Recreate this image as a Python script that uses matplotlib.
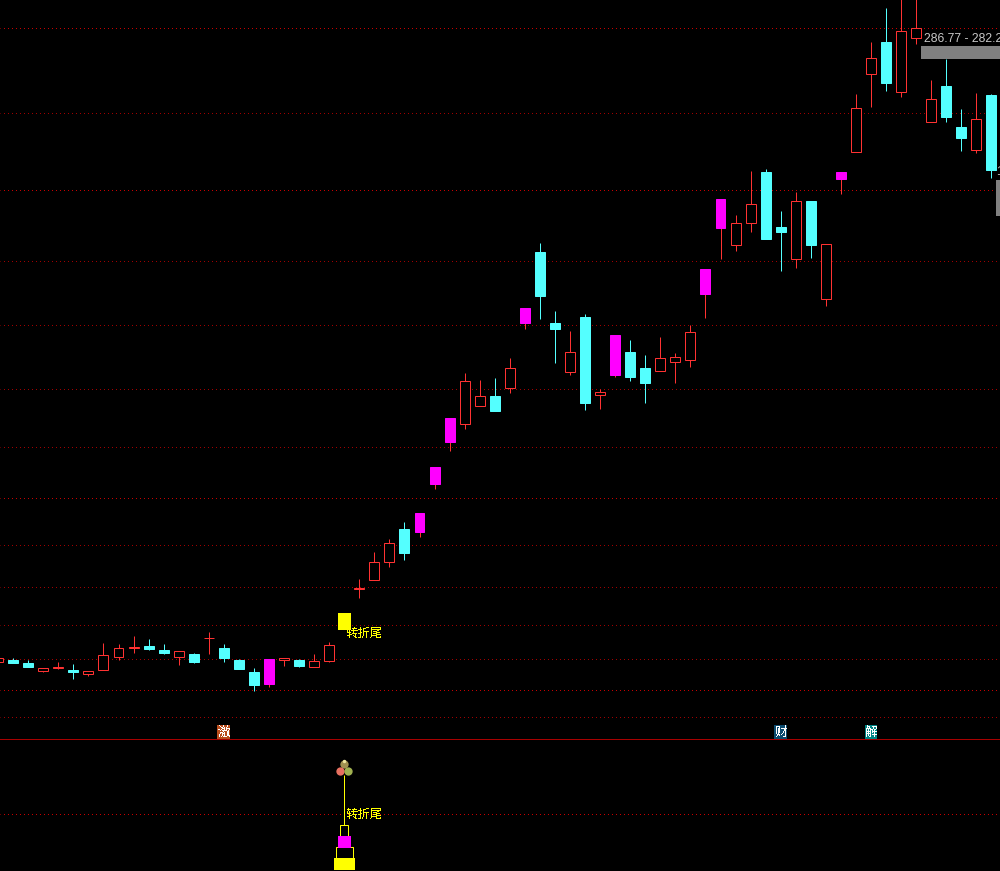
#!/usr/bin/env python3
import matplotlib
matplotlib.use('Agg')
import matplotlib.pyplot as plt
import numpy as np

opens = [77, 79, 76, 68, 71, 69, 65, 69, 82, 91, 93, 89, 82, 85, 101, 91, 79, 67, 55, 79, 79, 72, 78,
         109, 150, 159, 177, 210, 207, 255, 297, 315, 333, 343, 351, 416, 487, 416, 367, 422, 344, 364,
         387, 371, 368, 377, 379, 445, 511, 494, 516, 567, 512, 480, 538, 440, 560, 587, 665, 697, 647,
         701, 617, 653, 612, 589, 644]
highs = [81, 81, 79, 71, 77, 75, 68, 96, 95, 103, 100, 95, 88, 86, 107, 95, 80, 71, 80, 81, 80, 85, 97,
         126, 160, 187, 200, 217, 226, 272, 321, 366, 359, 361, 381, 431, 496, 428, 408, 425, 350, 404,
         399, 384, 402, 386, 414, 470, 540, 524, 568, 570, 528, 547, 538, 495, 567, 645, 697, 731, 745,
         745, 659, 680, 630, 646, 645]
lows = [77, 76, 72, 67, 70, 60, 63, 69, 79, 86, 89, 85, 74, 76, 85, 77, 70, 48, 52, 73, 72, 72, 77,
        109, 141, 159, 172, 179, 202, 250, 288, 310, 333, 328, 346, 410, 420, 376, 364, 329, 330, 362,
        358, 336, 368, 356, 372, 421, 480, 488, 507, 500, 468, 471, 481, 433, 545, 587, 632, 648, 642,
        695, 617, 617, 588, 586, 561]
closes = [81, 76, 72, 71, 72, 67, 68, 84, 91, 92, 90, 86, 88, 77, 101, 81, 70, 54, 80, 81, 73, 78, 94,
          126, 151, 177, 196, 186, 226, 272, 321, 358, 343, 328, 371, 431, 443, 410, 387, 336, 347, 404,
          362, 356, 381, 382, 407, 470, 540, 516, 535, 500, 507, 538, 494, 495, 567, 631, 681, 656, 708,
          711, 640, 622, 601, 620, 569]

magenta_days = [18, 28, 29, 30, 35, 41, 47, 48, 56]
yellow_days = [23]

major_levels = [711, 549, 241, 49]
minor_levels = [626, 478, 414, 350, 292, 194, 152, 114, 80, 22]
lower_level = 57

signal_day = 23
signal_label = '转折尾'
event_days = [15, 52, 58]
event_labels = ['激', '财', '解']
event_colors = ['#b84c1c', '#0b4a6e', '#008484']

tier_lows = [1, 13, 23, 34]
tier_highs = [13, 24, 35, 46]
tier_widths = [1.4, 1.1, 0.86, 0.55]
tier_colors = ['#ffff00', 'none', '#ff00ff', 'none']

STEP = 15.05
RED = '#ff3232'
CYAN = '#54ffff'
MAGENTA = '#ff00ff'
YELLOW = '#ffff00'
GRAY = '#808080'
PX = 0.72

plt.rcParams['font.family'] = ['Noto Sans CJK SC', 'DejaVu Sans']

fig = plt.figure(figsize=(10, 8.71), dpi=100, facecolor='black')
ax = fig.add_axes([0, 132 / 871, 1, 739 / 871])
low_ax = fig.add_axes([0, 0, 1, 132 / 871])
xlim = (1.9 / STEP, 1001.9 / STEP)
ax.set_xlim(xlim)
ax.set_ylim(0, 739)
low_ax.set_xlim(xlim)
low_ax.set_ylim(0, 132)
for a in (ax, low_ax):
    a.set_facecolor('black')
    a.axis('off')

# offset keeps the dots on whole pixels once the line is snapped
dots = (0.5, (1, 3))
for level in minor_levels:
    ax.axhline(level, color='#a00000', lw=PX, ls=dots, zorder=1)
for level in major_levels:
    ax.axhline(level, color='#c80000', lw=PX, ls=dots, zorder=1)
low_ax.axhline(lower_level, color='#c80000', lw=PX, ls=dots, zorder=1)
low_ax.axhline(131.8, color='#a80000', lw=PX, zorder=2)

days = np.arange(len(opens))
for day, o, h, l, c in zip(days, opens, highs, lows, closes):
    if day in yellow_days:
        ax.bar(day, c - o, 0.86, o, color=YELLOW, lw=0, zorder=3)
        continue
    if day in magenta_days:
        color, face, edge = RED, MAGENTA, MAGENTA
    elif c >= o:
        color, face, edge = RED, 'black', RED
    else:
        color, face, edge = CYAN, CYAN, CYAN
    ax.vlines(day, l, h, color=color, lw=PX, zorder=3)
    ax.bar(day, abs(c - o), 0.66, min(o, c), facecolor=face, edgecolor=edge, lw=PX, zorder=4)

ax.text(signal_day + 0.07, 106, signal_label, color=YELLOW, fontsize=8.9, va='center', ha='left', zorder=6,
        antialiased=False)

for day, label, color in zip(event_days, event_labels, event_colors):
    ax.bar(day, 14, 0.86, 0, color=color, lw=0, zorder=1.5)
    ax.text(day, 7, label, color='white', fontsize=9.2, ha='center', va='center', zorder=6, antialiased=False)

ax.barh(686.5, 80 / STEP, 13, 923 / STEP, color=GRAY, lw=0, zorder=5)
ax.barh(541, 5 / STEP, 36, 998 / STEP, color=GRAY, lw=0, zorder=5)
ax.text(61.5, 700.5, '286.77 - 282.2', color='#c8c8c8', fontsize=8.7, family='Liberation Sans',
        va='center', ha='left', zorder=6, clip_on=True)
ax.text(66.33, 567, '1', color='#c8c8c8', fontsize=8.7, family='Liberation Sans',
        va='center', ha='left', zorder=6, clip_on=True)

low_ax.vlines(signal_day, 46, 96, color=YELLOW, lw=PX, zorder=3)
for lo, hi, width, color in zip(tier_lows, tier_highs, tier_widths, tier_colors):
    if color == 'none':
        low_ax.bar(signal_day, hi - lo, width, lo, facecolor='black', edgecolor=YELLOW, lw=PX, zorder=4)
    else:
        low_ax.bar(signal_day, hi - lo, width, lo, color=color, lw=0, zorder=5)
low_ax.text(signal_day + 0.07, 57, signal_label, color=YELLOW, fontsize=8.9, va='center', ha='left', zorder=6,
            antialiased=False)

low_ax.scatter([signal_day], [107], s=36, c='#a09050', lw=0, zorder=6)
low_ax.scatter([signal_day - 0.28], [100], s=36, c='#e87060', lw=0, zorder=6)
low_ax.scatter([signal_day + 0.28], [100], s=36, c='#a0b050', lw=0, zorder=6)
low_ax.scatter([signal_day], [110], s=6, c='#f0e8a0', lw=0, zorder=7)

fig.savefig('out.png', dpi=100, facecolor='black')
plt.close()
